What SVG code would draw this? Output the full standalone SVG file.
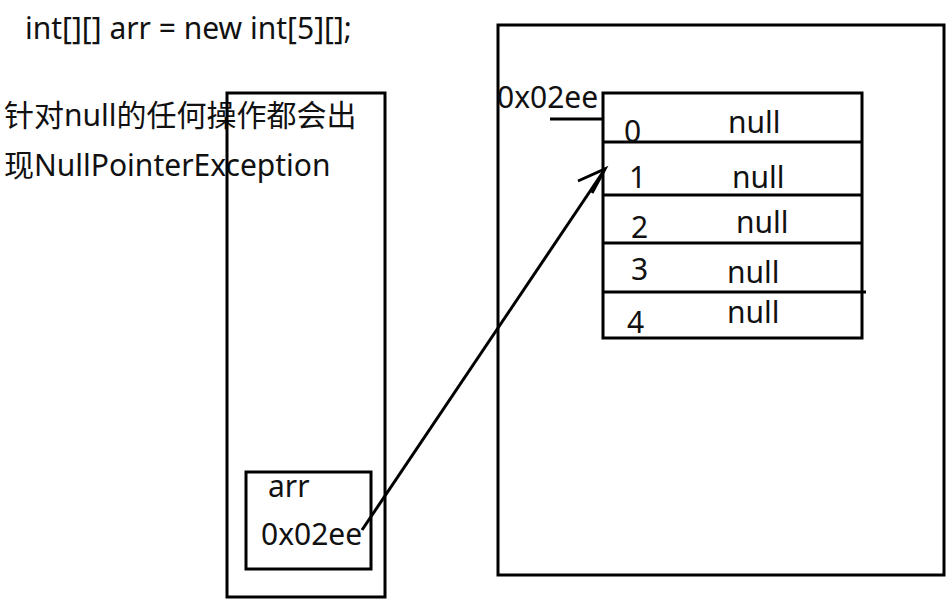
<svg xmlns="http://www.w3.org/2000/svg" width="952" height="603" viewBox="0 0 952 603">
<style>
.box{fill:none;stroke:#000;stroke-width:3}
.t{font-family:"Noto Sans","Noto Sans CJK SC",sans-serif;font-size:30px;fill:#111}
.ln{stroke:#000;stroke-width:3;fill:none}
</style>
<rect width="952" height="603" fill="#fff"/>
<g id="code"><text class="t" x="25" y="39">int[][] arr = new int[5][];</text></g>
<g id="note">
<text class="t" x="4" y="126">针对null的任何操作都会出</text>
<text class="t" x="4" y="176">现NullPointerException</text>
</g>
<g id="stack"><rect class="box" x="227" y="93" width="158" height="504"/></g>
<g id="heap"><rect class="box" x="498" y="25" width="446" height="550"/></g>
<g id="arr">
<rect class="box" x="246" y="472" width="125" height="97"/>
<text class="t" x="268" y="497">arr</text>
<text class="t" x="261" y="545">0x02ee</text>
</g>
<g id="array">
<rect class="box" x="603" y="93" width="259" height="245"/>
<line class="ln" x1="603" y1="142" x2="862" y2="142"/>
<line class="ln" x1="603" y1="195" x2="862" y2="195"/>
<line class="ln" x1="603" y1="243" x2="862" y2="243"/>
<line class="ln" x1="603" y1="292" x2="866" y2="292"/>
<text class="t" x="497" y="108">0x02ee</text>
<text class="t" x="624" y="142">0</text>
<text class="t" x="629" y="188">1</text>
<text class="t" x="631" y="238">2</text>
<text class="t" x="631" y="280">3</text>
<text class="t" x="627" y="333">4</text>
<text class="t" x="728" y="133">null</text>
<text class="t" x="732" y="188">null</text>
<text class="t" x="736" y="233">null</text>
<text class="t" x="727" y="283">null</text>
<text class="t" x="727" y="323">null</text>
</g>
<g id="connectors">
<line class="ln" x1="550" y1="119" x2="603" y2="119"/>
<path class="ln" d="M362 530 L605 169"/>
<path class="ln" d="M578 181 L605 169 L592 193"/>
</g>
</svg>
